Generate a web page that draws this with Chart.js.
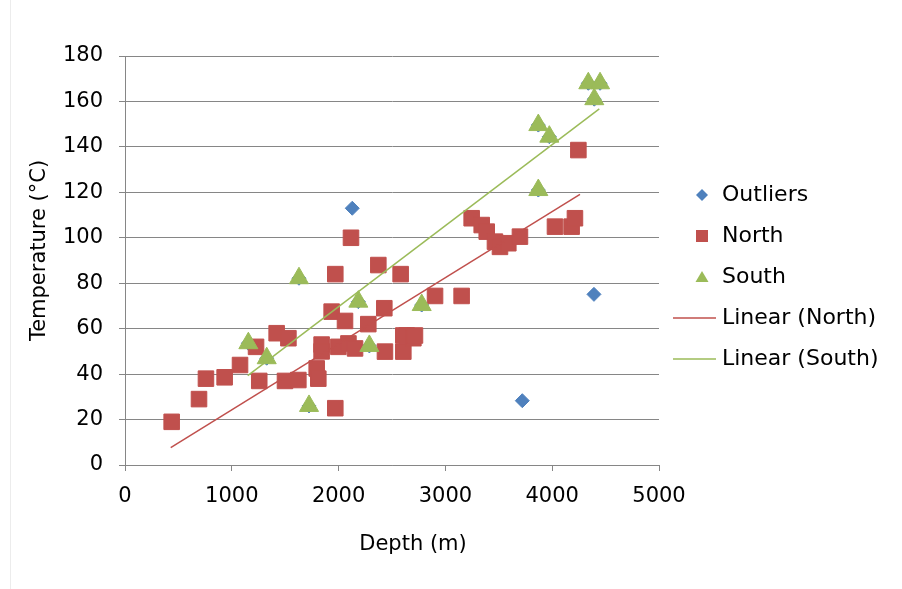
<!DOCTYPE html>
<html>
<head>
<meta charset="utf-8">
<script src="https://cdn.jsdelivr.net/npm/chart.js@4.4.0/dist/chart.umd.min.js"></script>
<style>
  html, body { margin: 0; padding: 0; background: #fff; }
  #wrap { position: relative; width: 902px; height: 589px; }
  #edge { position: absolute; left: 10px; top: 0; width: 1px; height: 589px; background: #ececec; }
  canvas { position: absolute; left: 0; top: 0; }
</style>
</head>
<body>
<div id="wrap">
  <div id="edge"></div>
  <canvas id="geoChart" width="902" height="589"></canvas>
</div>
<script>
// ===== DATA =====
const xTicks = [0, 1000, 2000, 3000, 4000, 5000];
const yTicks = [0, 20, 40, 60, 80, 100, 120, 140, 160, 180];

const northDepth = [437, 693, 758, 933, 1077, 1227, 1257, 1420, 1530, 1498, 1623, 1795, 1810, 1841, 1841,
  1969, 1969, 1935, 2116, 1998, 2060, 2092, 2154, 2278, 2372, 2428, 2434, 2581, 2606, 2606, 2637, 2700,
  2715, 2903, 3152, 3246, 3340, 3387, 3464, 3511, 3589, 3698, 4026, 4182, 4213, 4245];
const northTemp = [19, 29, 38, 38.6, 44, 52, 37, 58, 55.8, 37, 37.4, 42.5, 38, 53, 50,
  84, 25, 67.5, 100, 52, 63.4, 53.5, 51.3, 62, 88, 69, 49.9, 84, 57, 49.9, 57, 55.8,
  57, 74.4, 74.4, 108.6, 105.6, 102.7, 98.3, 96, 97.6, 100.5, 104.9, 104.9, 108.6, 138.6];

const southDepth = [1155, 1327, 1629, 1723, 2185, 2288, 2778, 3870, 3870, 3973, 4338, 4448, 4394];
const southTemp = [53.6, 47, 82.2, 26, 71.9, 52.4, 70.4, 121, 149.6, 144.5, 168, 168, 161];

const outlierDepth = [1155, 1327, 1629, 1723, 2185, 2288, 2778, 3870, 3870, 3973, 4338, 4448, 4394, 2128, 3720, 4391];
const outlierTemp = [53.6, 47, 82.2, 26, 71.9, 52.4, 70.4, 121, 149.6, 144.5, 168, 168, 161, 113, 28.3, 75.1];

// trendline end points
const northTrendDepth = [428, 4260];
const northTrendTemp = [7.6, 119.1];
const southTrendDepth = [1149, 4441];
const southTrendTemp = [39.3, 156.7];

const FONT = "'DejaVu Sans', Verdana, sans-serif";
const toPts = (xs, ys) => xs.map((x, i) => ({ x: x, y: ys[i] }));

// ===== PLUGINS =====
const axisTitles = {
  id: 'axisTitles',
  afterDraw(chart) {
    const { ctx, chartArea: a } = chart;
    ctx.save();
    ctx.fillStyle = '#000';
    ctx.font = '21px ' + FONT;
    ctx.textAlign = 'center';
    ctx.textBaseline = 'middle';
    ctx.fillText('Depth (m)', (a.left + a.right) / 2 + 21, a.bottom + 80);
    ctx.translate(a.left - 85, (a.top + a.bottom) / 2 - 10);
    ctx.rotate(-Math.PI / 2);
    ctx.fillText('Temperature (°C)', 0, 0);
    ctx.restore();
  }
};

const sideLegend = {
  id: 'sideLegend',
  afterDraw(chart) {
    const { ctx, chartArea: a } = chart;
    ctx.save();
    chart.data.datasets.forEach((ds, i) => {
      const y = a.top + 139 + i * 41;
      const mx = a.right + 43;
      ctx.fillStyle = ds.backgroundColor;
      ctx.strokeStyle = ds.borderColor;
      ctx.beginPath();
      if (ds.pointStyle === 'rectRot') {
        ctx.moveTo(mx, y - 6); ctx.lineTo(mx + 6, y); ctx.lineTo(mx, y + 6); ctx.lineTo(mx - 6, y);
        ctx.closePath(); ctx.fill();
      } else if (ds.pointStyle === 'rect') {
        ctx.rect(mx - 6, y - 6, 12, 12); ctx.fill();
      } else if (ds.pointStyle === 'triangle') {
        ctx.moveTo(mx, y - 6); ctx.lineTo(mx + 6.5, y + 5); ctx.lineTo(mx - 6.5, y + 5);
        ctx.closePath(); ctx.fill();
      } else {
        ctx.lineWidth = 1.5;
        ctx.moveTo(a.right + 14, y); ctx.lineTo(a.right + 57, y); ctx.stroke();
      }
      ctx.fillStyle = '#000';
      ctx.font = '22px ' + FONT;
      ctx.textAlign = 'left';
      ctx.textBaseline = 'middle';
      ctx.fillText(ds.label, a.right + 63, y);
    });
    ctx.restore();
  }
};

// ===== CHART =====
const ctx = document.getElementById('geoChart').getContext('2d');
new Chart(ctx, {
  type: 'scatter',
  data: {
    datasets: [
      {
        label: 'Outliers', data: toPts(outlierDepth, outlierTemp), order: 5,
        pointStyle: 'rectRot', pointRadius: 7, backgroundColor: '#4F81BD', borderColor: '#4F81BD', borderWidth: 1
      },
      {
        label: 'North', data: toPts(northDepth, northTemp), order: 4,
        pointStyle: 'rect', pointRadius: 11, backgroundColor: '#C0504D', borderColor: '#C0504D', borderWidth: 1
      },
      {
        label: 'South', data: toPts(southDepth, southTemp), order: 3,
        pointStyle: 'triangle', pointRadius: 11, backgroundColor: '#9BBB59', borderColor: '#9BBB59', borderWidth: 1
      },
      {
        label: 'Linear (North)', data: toPts(northTrendDepth, northTrendTemp), order: 2,
        showLine: true, pointRadius: 0, borderColor: '#C0504D', backgroundColor: '#C0504D', borderWidth: 1.5
      },
      {
        label: 'Linear (South)', data: toPts(southTrendDepth, southTrendTemp), order: 1,
        showLine: true, pointRadius: 0, borderColor: '#9BBB59', backgroundColor: '#9BBB59', borderWidth: 1.5
      }
    ]
  },
  options: {
    responsive: false,
    animation: false,
    devicePixelRatio: 1,
    layout: { padding: { top: 56, right: 243, left: 0, bottom: 0 } },
    plugins: {
      legend: { display: false },
      tooltip: { enabled: false }
    },
    scales: {
      x: {
        type: 'linear', min: 0, max: 5000,
        afterBuildTicks: s => { s.ticks = xTicks.map(v => ({ value: v })); },
        afterFit: s => { s.height = 124; },
        grid: { drawOnChartArea: false, tickLength: 6, color: '#868686' },
        border: { color: '#868686', width: 1 },
        ticks: { color: '#000', font: { family: FONT, size: 21 }, padding: 13, maxRotation: 0, callback: v => String(v) }
      },
      y: {
        type: 'linear', min: 0, max: 180,
        afterBuildTicks: s => { s.ticks = yTicks.map(v => ({ value: v })); },
        afterFit: s => { s.width = 125; },
        grid: { tickLength: 6, color: '#868686' },
        border: { color: '#868686', width: 1 },
        ticks: { color: '#000', font: { family: FONT, size: 21 }, padding: 16, callback: v => String(v) }
      }
    }
  },
  plugins: [axisTitles, sideLegend]
});
</script>
</body>
</html>
